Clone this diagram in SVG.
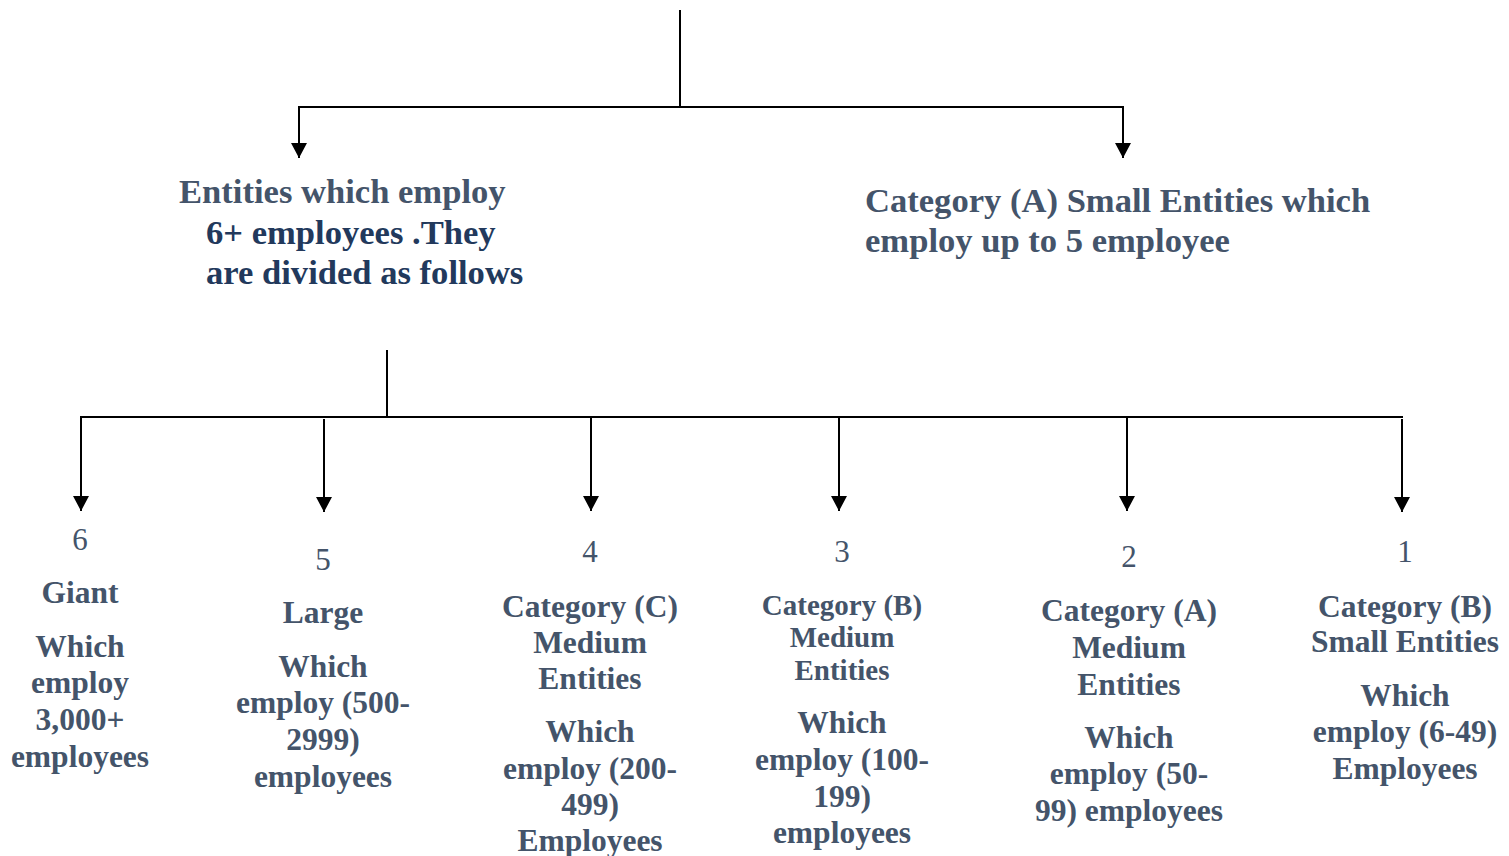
<svg xmlns="http://www.w3.org/2000/svg" width="1509" height="856" viewBox="0 0 1509 856">
<defs>
<style>
.t{font-family:"Liberation Serif","Times New Roman",serif;font-weight:bold;fill:#44546A;text-anchor:middle;font-size:31.5px}
.n{font-family:"Liberation Serif","Times New Roman",serif;font-weight:normal;fill:#44546A;text-anchor:middle;font-size:31px}
.h{font-family:"Liberation Serif","Times New Roman",serif;font-weight:bold;fill:#44546A;font-size:34.6px}
.d{fill:#22395C}
.c{fill:none;stroke:#000;stroke-width:2}
</style>
<marker id="ah" viewBox="0 0 15 16" refX="15" refY="8" markerWidth="15" markerHeight="16" markerUnits="userSpaceOnUse" orient="auto">
<path d="M0 0 L15 8 L0 16 Z" fill="#000"/>
</marker>
</defs>
<rect width="1509" height="856" fill="#fff"/>
<g id="connectors">
<path class="c" d="M680 10 V107 M298 107 H1124"/>
<path class="c" d="M299 107 V158" marker-end="url(#ah)"/>
<path class="c" d="M1123 107 V158" marker-end="url(#ah)"/>
<path class="c" d="M387 350 V417 M80 417 H1403"/>
<path class="c" d="M81 417 V511" marker-end="url(#ah)"/>
<path class="c" d="M324 419 V512" marker-end="url(#ah)"/>
<path class="c" d="M591 417 V511" marker-end="url(#ah)"/>
<path class="c" d="M839 417 V511" marker-end="url(#ah)"/>
<path class="c" d="M1127 417 V511" marker-end="url(#ah)"/>
<path class="c" d="M1402 419 V512" marker-end="url(#ah)"/>
</g>
<g id="node-large-entities">
<text class="h" x="179" y="203">Entities which employ</text>
<text class="h d" x="206" y="244">6+ employees .They</text>
<text class="h d" x="206" y="284">are divided as follows</text>
</g>
<g id="node-small-a">
<text class="h" x="865" y="212">Category (A) Small Entities which</text>
<text class="h" x="865" y="252">employ up to 5 employee</text>
</g>
<g id="node-6">
<text class="n" x="80" y="550">6</text>
<text class="t" x="80" y="603">Giant</text>
<text class="t" x="80" y="657">Which</text>
<text class="t" x="80" y="693">employ</text>
<text class="t" x="80" y="730">3,000+</text>
<text class="t" x="80" y="767">employees</text>
</g>
<g id="node-5">
<text class="n" x="323" y="570">5</text>
<text class="t" x="323" y="623">Large</text>
<text class="t" x="323" y="677">Which</text>
<text class="t" x="323" y="713">employ (500-</text>
<text class="t" x="323" y="750">2999)</text>
<text class="t" x="323" y="787">employees</text>
</g>
<g id="node-4">
<text class="n" x="590" y="562">4</text>
<text class="t" x="590" y="617">Category (C)</text>
<text class="t" x="590" y="653">Medium</text>
<text class="t" x="590" y="689">Entities</text>
<text class="t" x="590" y="742">Which</text>
<text class="t" x="590" y="779">employ (200-</text>
<text class="t" x="590" y="815">499)</text>
<text class="t" x="590" y="851">Employees</text>
</g>
<g id="node-3">
<text class="n" x="842" y="562">3</text>
<text class="t" x="842" y="615" style="font-size:29px">Category (B)</text>
<text class="t" x="842" y="647" style="font-size:29px">Medium</text>
<text class="t" x="842" y="680" style="font-size:29px">Entities</text>
<text class="t" x="842" y="733">Which</text>
<text class="t" x="842" y="770">employ (100-</text>
<text class="t" x="842" y="807">199)</text>
<text class="t" x="842" y="843">employees</text>
</g>
<g id="node-2">
<text class="n" x="1129" y="567">2</text>
<text class="t" x="1129" y="621">Category (A)</text>
<text class="t" x="1129" y="658">Medium</text>
<text class="t" x="1129" y="695">Entities</text>
<text class="t" x="1129" y="748">Which</text>
<text class="t" x="1129" y="784">employ (50-</text>
<text class="t" x="1129" y="821">99) employees</text>
</g>
<g id="node-1">
<text class="n" x="1405" y="562">1</text>
<text class="t" x="1405" y="617">Category (B)</text>
<text class="t" x="1405" y="652">Small Entities</text>
<text class="t" x="1405" y="706">Which</text>
<text class="t" x="1405" y="742">employ (6-49)</text>
<text class="t" x="1405" y="779">Employees</text>
</g>
</svg>
